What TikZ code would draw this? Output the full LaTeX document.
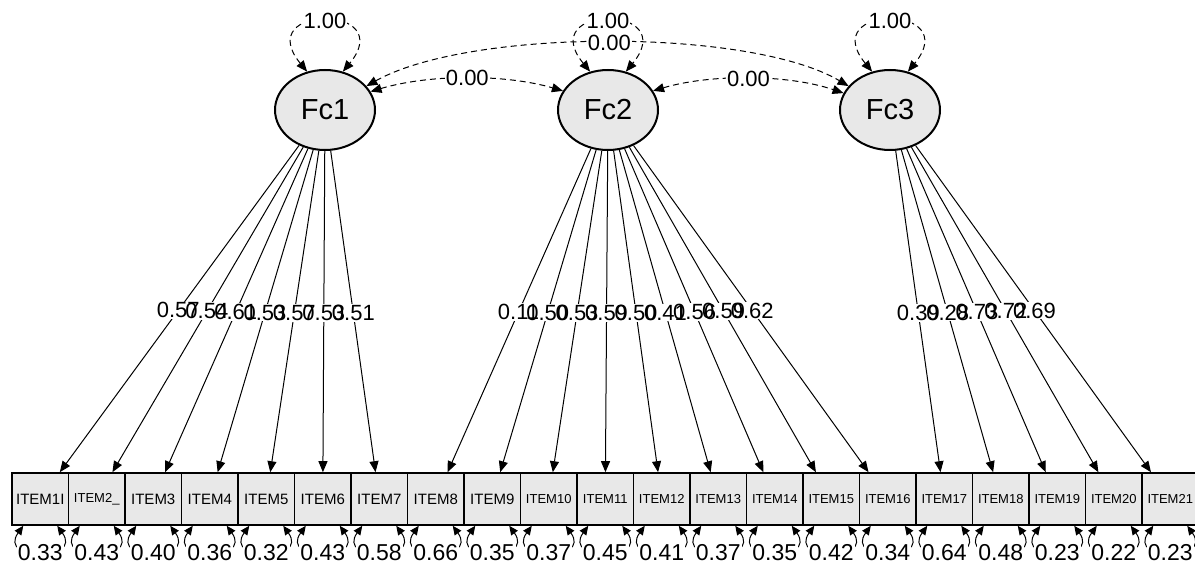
\documentclass[tikz,border=0pt]{standalone}
\usepackage{fontspec}
\setmainfont{Liberation Sans}
\usetikzlibrary{arrows.meta,shapes.geometric}
\definecolor{latfill}{RGB}{232,232,232}
\begin{document}
\begin{tikzpicture}[x=1pt,y=-1pt,
  lat/.style={ellipse,draw,line width=2pt,fill=latfill,minimum width=100pt,minimum height=80pt,inner sep=0pt,font=\fontsize{29}{29}\selectfont},
  man/.style={rectangle,draw,line width=1.6pt,fill=latfill,minimum width=56.5pt,minimum height=52pt,inner sep=0pt},
  arr/.style={-{Triangle[length=11pt,width=9pt]},line width=1pt},
  dbl/.style={{Triangle[length=11pt,width=9pt]}-{Triangle[length=11pt,width=9pt]},line width=1pt,dash pattern=on 6pt off 4pt},
  resarr/.style={{Triangle[length=9pt,width=8pt]}-{Triangle[length=9pt,width=8pt]},line width=1pt},
  num/.style={font=\fontsize{22}{22}\selectfont,inner sep=1pt},
  numbg/.style={num,fill=white,text=white},
  numw/.style={num,fill=white},
  resnum/.style={font=\fontsize{23}{23}\selectfont,inner sep=1pt,fill=white},
]
\useasboundingbox (0,0) rectangle (1195,564);

% latent factors
\node[lat] (Fc1) at (325,110) {Fc1};
\node[lat] (Fc2) at (608,110) {Fc2};
\node[lat] (Fc3) at (890,110) {Fc3};

% items
\foreach \i/\t/\fs in {1/ITEM1I/15,2/ITEM2\_/13,3/ITEM3/15,4/ITEM4/15,5/ITEM5/15,6/ITEM6/15,7/ITEM7/15,8/ITEM8/15,9/ITEM9/15,10/ITEM10/13,11/ITEM11/13,12/ITEM12/13,13/ITEM13/13,14/ITEM14/13,15/ITEM15/13,16/ITEM16/13,17/ITEM17/13,18/ITEM18/13,19/ITEM19/13,20/ITEM20/13,21/ITEM21/13}
  \node[man,font=\fontsize{\fs}{\fs}\selectfont] (i\i) at ({40.25+(\i-1)*56.5},499) {\t};

% loadings
\foreach \f/\a/\b in {1/1/7,2/8/16,3/17/21}
  \foreach \i in {\a,...,\b}
    \draw[arr] (Fc\f) -- coordinate[pos=0.505] (L\i) (i\i);

\def\loadlist{1/0.57,2/0.54,3/0.61,4/0.53,5/0.57,6/0.53,7/0.51,8/0.11,9/0.50,10/0.53,11/0.59,12/0.50,13/0.41,14/0.56,15/0.59,16/0.62,17/0.39,18/0.28,19/0.73,20/0.72,21/0.69}
\foreach \i/\v in \loadlist \node[numbg] (lb\i) at (L\i) {\v};
\foreach \i/\v in \loadlist \node[num] (l\i) at (L\i) {\v};

% covariances
\draw[dbl] (Fc1.30) .. controls (470,28) and (750,28) .. node[numw,pos=0.5] (c13) {0.00} (Fc3.150);
\draw[dbl] (Fc1.22) .. controls (430,74) and (505,74) .. node[numw,pos=0.5] (c12) {0.00} (Fc2.157);
\draw[dbl] (Fc2.23) .. controls (710,74) and (787,74) .. node[numw,pos=0.5] (c23) {0.00} (Fc3.160);

% factor variances
\foreach \f in {1,2,3}
  \draw[dbl] (Fc\f.115) .. controls +(-56,-68) and +(56,-68) .. node[numw,pos=0.5] (v\f) {1.00} (Fc\f.65);

% residual variances
\foreach \i/\v in {1/0.33,2/0.43,3/0.40,4/0.36,5/0.32,6/0.43,7/0.58,8/0.66,9/0.35,10/0.37,11/0.45,12/0.41,13/0.37,14/0.35,15/0.42,16/0.34,17/0.64,18/0.48,19/0.23,20/0.22,21/0.23}{
  \draw[resarr] ([xshift=-17pt]i\i.south) .. controls +(-26,36) and +(26,36) .. ([xshift=17pt]i\i.south);
  \path (i\i.south) ++(0,27) node[resnum] (r\i) {\v};
}
\end{tikzpicture}
\end{document}
